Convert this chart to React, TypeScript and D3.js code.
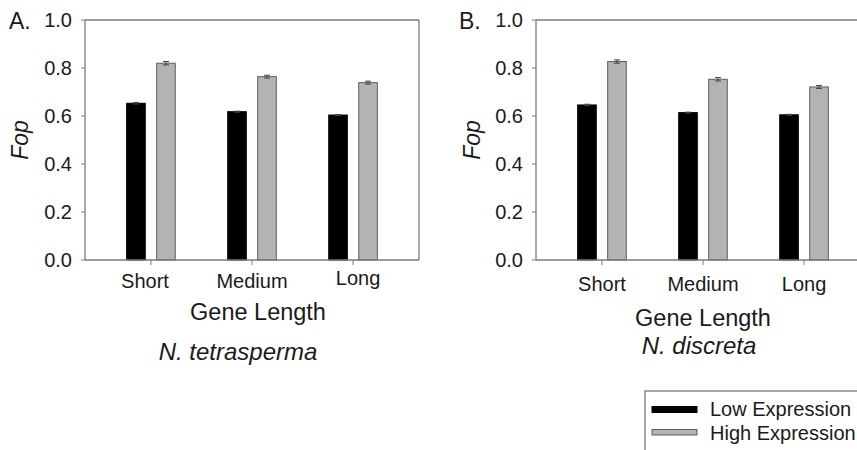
import React from "react";
import * as d3 from "d3";

const categories = ["Short", "Medium", "Long"];
const seriesNames = ["Low Expression", "High Expression"];
const tetraLow = [0.653, 0.618, 0.604];
const tetraHigh = [0.82, 0.764, 0.739];
const tetraLowErr = [0.003, 0.002, 0.002];
const tetraHighErr = [0.007, 0.006, 0.006];
const discLow = [0.646, 0.614, 0.605];
const discHigh = [0.827, 0.753, 0.721];
const discLowErr = [0.003, 0.002, 0.002];
const discHighErr = [0.007, 0.007, 0.006];
const yTicks = [0, 0.2, 0.4, 0.6, 0.8, 1.0];

const FONT = "'Liberation Sans', Arial, Helvetica, sans-serif";
const AXIS = "#7a7a7a";
const TEXT = "#1a1a1a";
const GREY = "#b3b3b3";

type PanelProps = {
  letter: string;
  species: string;
  low: number[];
  high: number[];
  lowErr: number[];
  highErr: number[];
  left: number;
  right: number;
  closed: boolean;
  letterX: number;
  fopX: number;
  geneX: number;
  geneY: number;
  speciesX: number;
  speciesY: number;
  catLabelY: number;
  catDx: number[];
  catDy: number[];
};

function Panel(p: PanelProps) {
  const y = d3.scaleLinear().domain([0, 1]).range([260, 20]);
  const x0 = d3.scalePoint<string>().domain(categories).range([p.left, p.right]).padding(0.653);
  const x1 = d3.scaleBand<string>().domain(seriesNames).range([-24.3, 24.3]).paddingInner(0.38).paddingOuter(0);
  const bw = x1.bandwidth();
  const series = [
    { name: seriesNames[0], vals: p.low, errs: p.lowErr, fill: "#000", stroke: "#000" },
    { name: seriesNames[1], vals: p.high, errs: p.highErr, fill: GREY, stroke: "#5e5e5e" },
  ];
  const [y0, yTop] = y.range();
  return (
    <g>
      {series.map((s) =>
        categories.map((c, i) => {
          const bx = (x0(c) as number) + (x1(s.name) as number);
          const vy = y(s.vals[i]);
          const cx = bx + bw / 2;
          const e1 = y(s.vals[i] + s.errs[i]);
          const e2 = y(s.vals[i] - s.errs[i]);
          return (
            <g key={s.name + c}>
              <rect x={bx} y={vy} width={bw} height={y0 - vy} fill={s.fill} stroke={s.stroke} strokeWidth={1} />
              <line x1={cx} x2={cx} y1={e1} y2={e2} stroke="#444" strokeWidth={1} />
              <line x1={cx - 3} x2={cx + 3} y1={e1} y2={e1} stroke="#444" strokeWidth={1} />
              <line x1={cx - 3} x2={cx + 3} y1={e2} y2={e2} stroke="#444" strokeWidth={1} />
            </g>
          );
        })
      )}
      <line x1={p.left} x2={p.left} y1={yTop} y2={y0} stroke={AXIS} strokeWidth={1.3} />
      <line x1={p.left} x2={p.right} y1={y0} y2={y0} stroke={AXIS} strokeWidth={1.3} />
      <line x1={p.left} x2={p.right} y1={yTop} y2={yTop} stroke={AXIS} strokeWidth={1.3} />
      {p.closed && <line x1={p.right} x2={p.right} y1={yTop} y2={y0} stroke={AXIS} strokeWidth={1.3} />}
      {yTicks.map((t) => (
        <g key={t}>
          <line x1={p.left - 4} x2={p.left} y1={y(t)} y2={y(t)} stroke={AXIS} strokeWidth={1} />
          <text x={p.left - 13} y={y(t)} dy="0.36em" textAnchor="end" fontSize={20} fill={TEXT} fontFamily={FONT}>
            {d3.format(".1f")(t)}
          </text>
        </g>
      ))}
      {categories.map((c, i) => (
        <g key={c}>
          <line x1={x0(c)} x2={x0(c)} y1={y0} y2={y0 + 5} stroke={AXIS} strokeWidth={1} />
          <text
            x={(x0(c) as number) + p.catDx[i]}
            y={p.catLabelY + p.catDy[i]}
            textAnchor="middle"
            fontSize={20}
            fill={TEXT}
            fontFamily={FONT}
          >
            {c}
          </text>
        </g>
      ))}
      <text x={p.letterX} y={29} fontSize={23} fill={TEXT} fontFamily={FONT}>
        {p.letter}
      </text>
      <text
        transform={`translate(${p.fopX},140) rotate(-90)`}
        textAnchor="middle"
        fontSize={23}
        fontStyle="italic"
        fill={TEXT}
        fontFamily={FONT}
      >
        Fop
      </text>
      <text x={p.geneX} y={p.geneY} textAnchor="middle" fontSize={23.5} fill={TEXT} fontFamily={FONT}>
        Gene Length
      </text>
      <text x={p.speciesX} y={p.speciesY} textAnchor="middle" fontSize={24} fontStyle="italic" fill={TEXT} fontFamily={FONT}>
        {p.species}
      </text>
    </g>
  );
}

export default function App() {
  return (
    <svg width={857} height={450} style={{ position: "absolute", left: 0, top: 0, background: "#fff" }}>
      <rect width={857} height={450} fill="#fff" />
      <Panel
        letter="A."
        species="N. tetrasperma"
        low={tetraLow}
        high={tetraHigh}
        lowErr={tetraLowErr}
        highErr={tetraHighErr}
        left={85}
        right={419}
        closed={true}
        letterX={9}
        fopX={28}
        geneX={258}
        geneY={320}
        speciesX={238}
        speciesY={360}
        catLabelY={288}
        catDx={[-6, 0, 5]}
        catDy={[0, 0, -3]}
      />
      <Panel
        letter="B."
        species="N. discreta"
        low={discLow}
        high={discHigh}
        lowErr={discLowErr}
        highErr={discHighErr}
        left={536}
        right={870}
        closed={false}
        letterX={459}
        fopX={480}
        geneX={703}
        geneY={326}
        speciesX={699}
        speciesY={354}
        catLabelY={291}
        catDx={[0, 0, 0]}
        catDy={[0, 0, 0]}
      />
      <g>
        <rect x={645} y={391} width={240} height={80} fill="#fff" stroke={AXIS} strokeWidth={1.3} />
        <rect x={652} y={406.5} width={45} height={6} fill="#000" stroke="#000" strokeWidth={1} />
        <text x={710} y={416} fontSize={20} fill={TEXT} fontFamily={FONT}>
          {seriesNames[0]}
        </text>
        <rect x={652} y={429.5} width={45} height={5.5} fill={GREY} stroke="#5e5e5e" strokeWidth={1} />
        <text x={710} y={440} fontSize={20} fill={TEXT} fontFamily={FONT}>
          {seriesNames[1]}
        </text>
      </g>
    </svg>
  );
}
